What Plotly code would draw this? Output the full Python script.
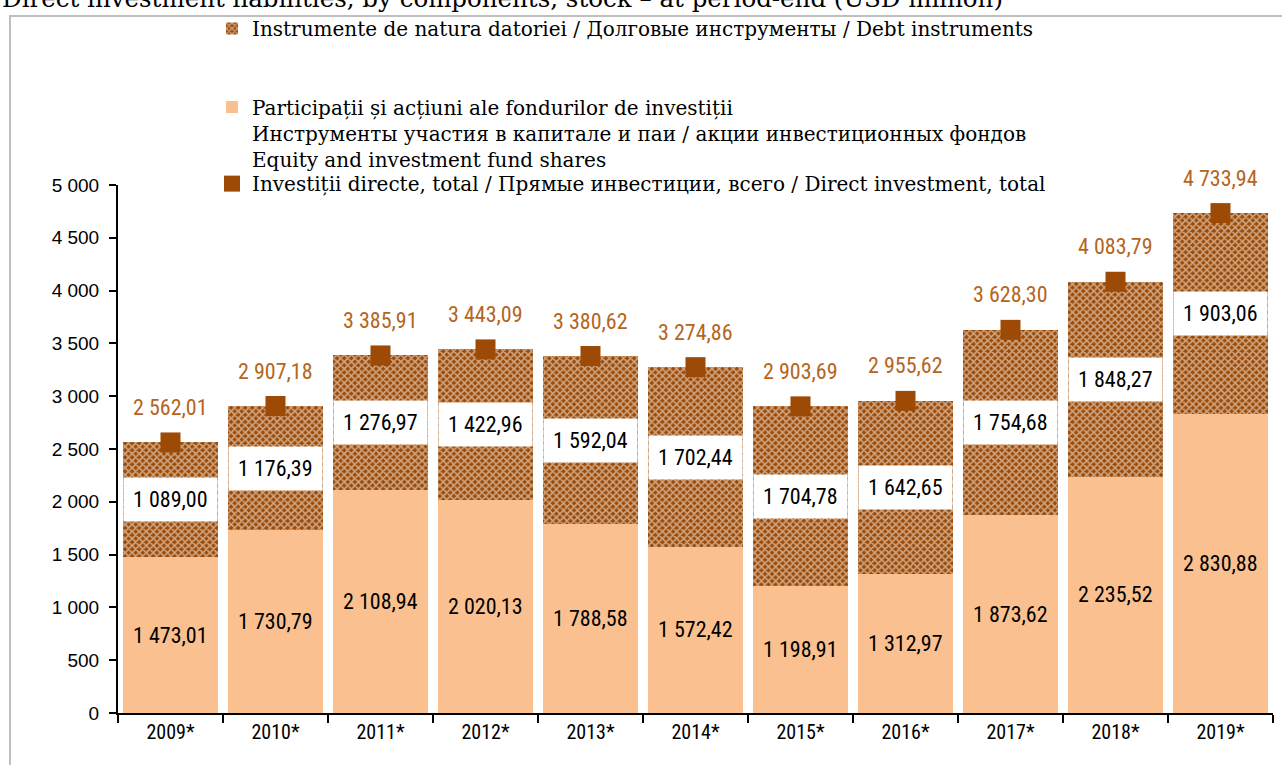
import plotly.graph_objects as go

years = ["2009*", "2010*", "2011*", "2012*", "2013*", "2014*", "2015*", "2016*", "2017*", "2018*", "2019*"]
equity = [1473.01, 1730.79, 2108.94, 2020.13, 1788.58, 1572.42, 1198.91, 1312.97, 1873.62, 2235.52, 2830.88]
debt = [1089.00, 1176.39, 1276.97, 1422.96, 1592.04, 1702.44, 1704.78, 1642.65, 1754.68, 1848.27, 1903.06]
total = [2562.01, 2907.18, 3385.91, 3443.09, 3380.62, 3274.86, 2903.69, 2955.62, 3628.30, 4083.79, 4733.94]

name_debt = "Instrumente de natura datoriei / Долговые инструменты / Debt instruments"
name_equity = ("Participații și acțiuni ale fondurilor de investiții<br>"
               "Инструменты участия в капитале и паи / акции инвестиционных фондов<br>"
               "Equity and investment fund shares")
name_total = "Investiții directe, total / Прямые инвестиции, всего / Direct investment, total"
title_text = "Direct investment liabilities, by components, stock – at period-end (USD million)"


def fmt(v):
    s = f"{v:,.2f}"
    return s.replace(",", " ").replace(".", ",")


BROWN = "#9C4A06"
LABEL_BROWN = "#B5651D"
EQUITY = "#FAC090"
NARROW = "Liberation Sans Narrow, Roboto Condensed, Liberation Sans, sans-serif"
SANS = "Liberation Sans, Arial, sans-serif"
SERIF = "DejaVu Serif, serif"

fig = go.Figure()
fig.add_trace(go.Bar(
    x=years, y=equity, name=name_equity, legend="legend2",
    marker=dict(color=EQUITY, line=dict(width=0)),
))
fig.add_trace(go.Bar(
    x=years, y=debt, name=name_debt, legend="legend",
    marker=dict(color=BROWN, line=dict(width=0),
                pattern=dict(shape="x", fgcolor="white", bgcolor=BROWN, size=5, solidity=0.55)),
))
fig.add_trace(go.Scatter(
    x=years, y=total, name=name_total, legend="legend3", mode="markers",
    marker=dict(symbol="square", size=20, color=BROWN),
))

annotations = []
for yr, e, d, t in zip(years, equity, debt, total):
    annotations.append(dict(x=yr, y=e / 2, text=fmt(e), showarrow=False,
                            font=dict(family=NARROW, size=22, color="black")))
    annotations.append(dict(x=yr, y=e + d / 2, text=fmt(d), showarrow=False,
                            bgcolor="white", borderpad=9,
                            font=dict(family=NARROW, size=22, color="black")))
    annotations.append(dict(x=yr, y=t, text=fmt(t), showarrow=False, yshift=35,
                            font=dict(family=NARROW, size=22, color=LABEL_BROWN)))

W, H = 1282, 765
L, R, T, B = 118, 9, 182, 52
pw, ph = W - L - R, H - T - B


def px_x(p):
    return (p - L) / pw


def px_y(p):
    return 1 + (T - p) / ph


annotations.append(dict(xref="paper", yref="paper", x=px_x(0), y=px_y(-6),
                        xanchor="left", yanchor="middle", text=title_text, showarrow=False,
                        font=dict(family="DejaVu Serif, serif", size=24.5, color="black")))

legend_common = dict(font=dict(family=SERIF, size=20, color="black"),
                     bgcolor="rgba(0,0,0,0)", xanchor="left", yanchor="top",
                     itemclick=False, itemdoubleclick=False)

fig.update_layout(
    width=W, height=H,
    margin=dict(l=L, r=R, t=T, b=B),
    paper_bgcolor="white", plot_bgcolor="white",
    barmode="stack", bargap=0.095,
    separators=", ",
    showlegend=True,
    legend=dict(x=px_x(212), y=px_y(5), **legend_common),
    legend2=dict(x=px_x(212), y=px_y(84), valign="top", **legend_common),
    legend3=dict(x=px_x(212), y=px_y(161), **legend_common),
    annotations=annotations,
    shapes=[dict(type="rect", xref="paper", yref="paper",
                 x0=px_x(10), x1=px_x(1295), y0=px_y(780), y1=px_y(12),
                 line=dict(color="#BFBFBF", width=2), fillcolor="rgba(0,0,0,0)", layer="below")],
    xaxis=dict(range=[-0.5, len(years) - 0.5], showline=True, linecolor="black", linewidth=2,
               ticks="outside", tickson="boundaries", ticklen=8, tickwidth=2, tickcolor="black",
               tickfont=dict(family=NARROW, size=20, color="black"), showgrid=False),
    yaxis=dict(range=[0, 5000], dtick=500, tickformat=",d", showline=True, linecolor="black",
               linewidth=2, ticks="outside", ticklen=7, tickwidth=2, tickcolor="black",
               ticklabelstandoff=6,
               tickfont=dict(family=SANS, size=19, color="black"), showgrid=False,
               zeroline=False),
)

fig.write_html("out.html", config={"displayModeBar": False},
               post_script="document.body.style.margin='0';")
